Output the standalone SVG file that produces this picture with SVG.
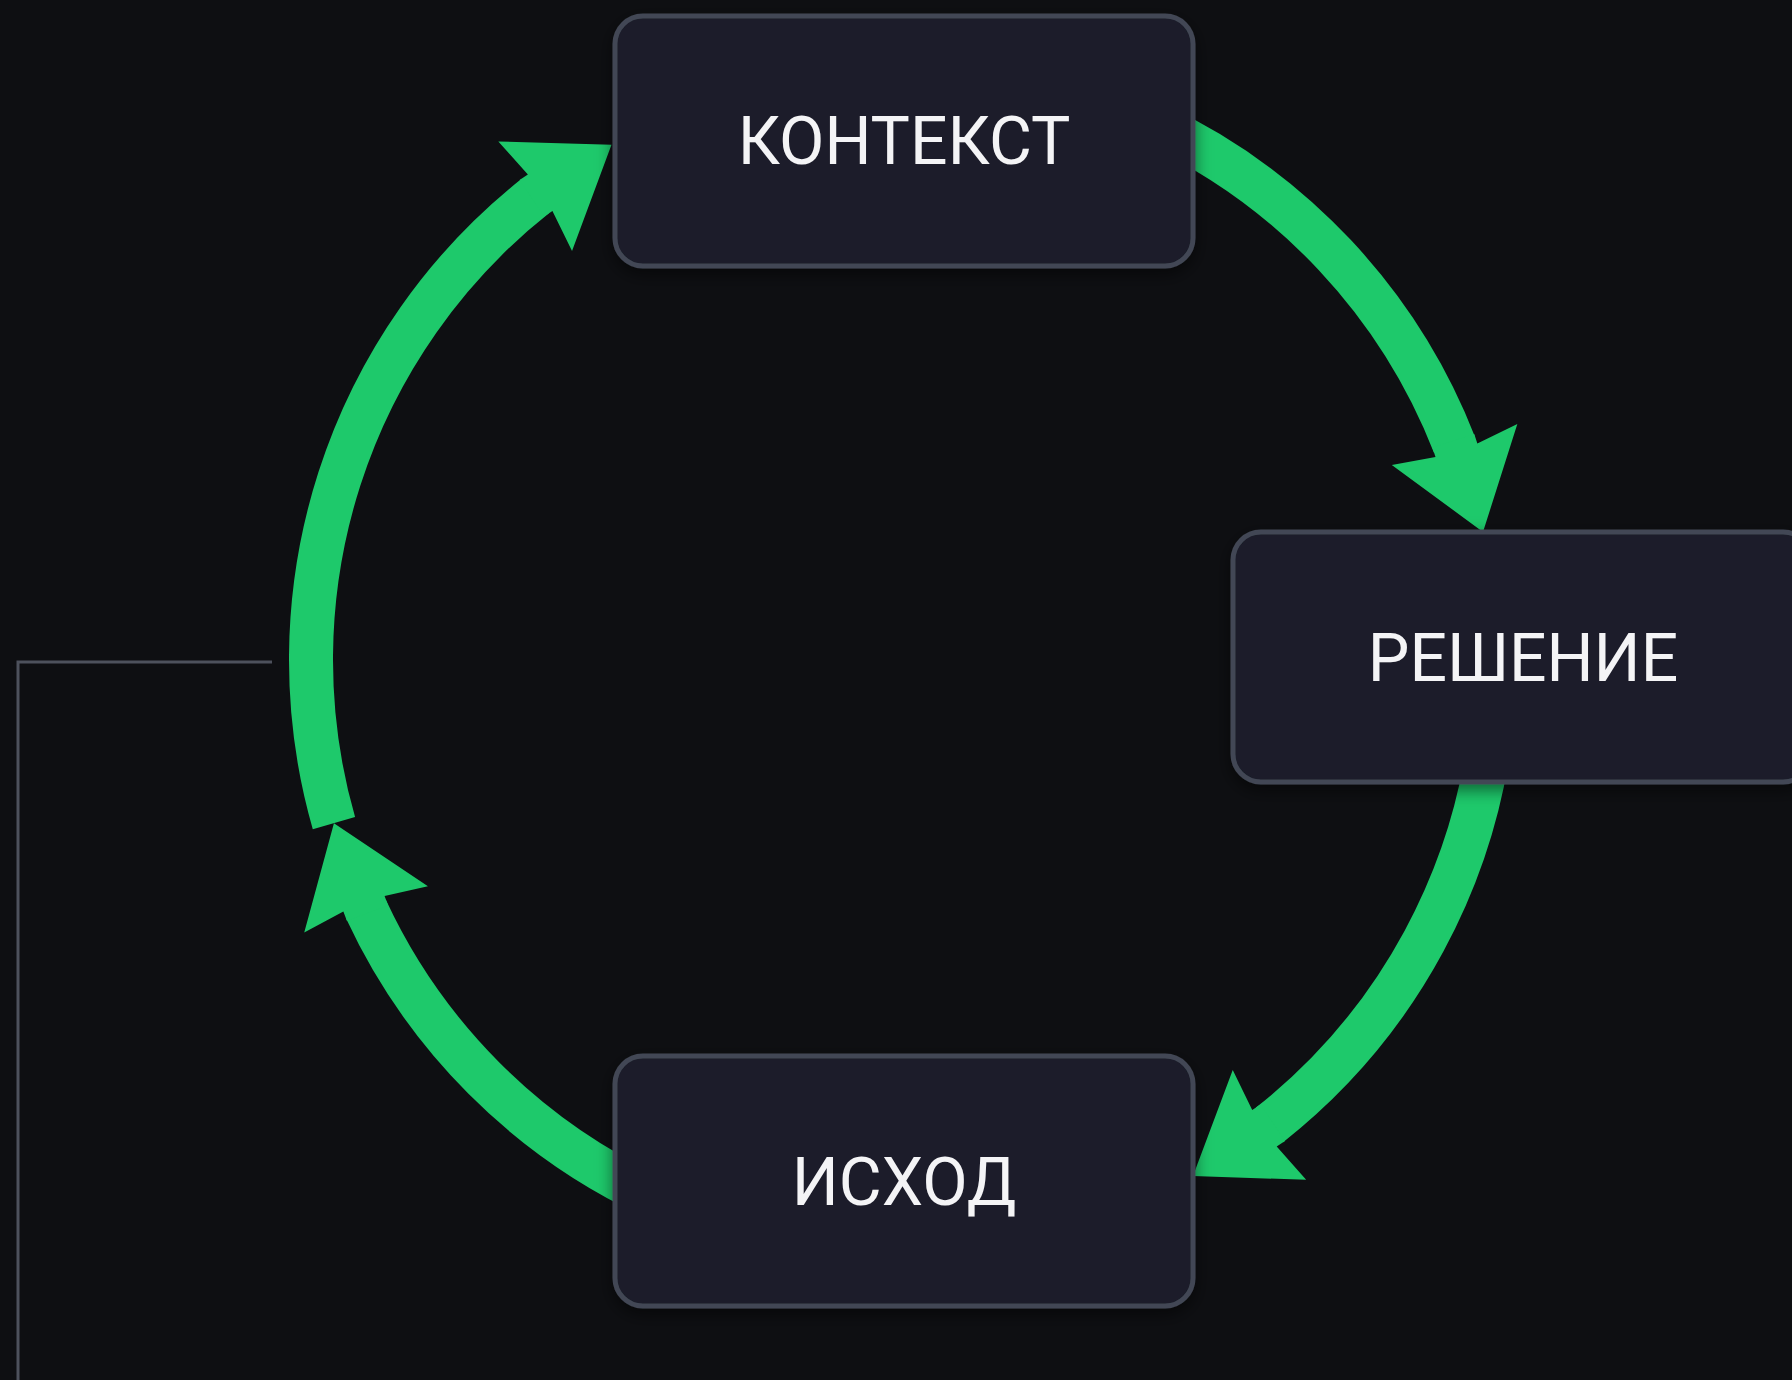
<svg xmlns="http://www.w3.org/2000/svg" width="1792" height="1380" viewBox="0 0 1792 1380">
  <defs>
    <style>
      .box { fill: #1a1d29; stroke: #424754; stroke-width: 5; }
      .label { font-family: Roboto, "Liberation Sans", sans-serif; font-size: 66px; fill: #f4f4f6; text-anchor: middle; }
      .arc { fill: none; stroke: #1ec96b; stroke-width: 44; stroke-linecap: butt; }
      .head { fill: #1ec96b; }
      .wire { fill: none; stroke: #4d515c; stroke-width: 3; }
    </style>
    <polygon id="arrowhead" points="0,0 -92,-66 -86,-22 -96,-22 -96,22 -86,22 -92,66"/>
    <filter id="shadow" x="-10%" y="-10%" width="120%" height="130%">
      <feDropShadow dx="0" dy="6" stdDeviation="8" flood-color="#000000" flood-opacity="0.5"/>
    </filter>
  </defs>
  <rect x="0" y="0" width="1792" height="1380" fill="#0e0f12"/>

  <g id="connectors">
    <path class="wire" d="M 272 662 H 18 V 1380"/>
    <!-- КОНТЕКСТ -> РЕШЕНИЕ -->
    <path class="arc" d="M 1153.19 123.47 A 592 592 0 0 1 1454.56 444.96"/>
    <use href="#arrowhead" class="head" transform="translate(1483 532) rotate(72)"/>
    <!-- РЕШЕНИЕ -> ИСХОД -->
    <path class="arc" d="M 1492.75 711.60 A 592 592 0 0 1 1269.51 1124.90"/>
    <use href="#arrowhead" class="head" transform="translate(1192.99 1176.11) rotate(146.21)"/>
    <!-- ИСХОД -> left -->
    <path class="arc" d="M 652.81 1196.53 A 592 592 0 0 1 366.03 909.26"/>
    <use href="#arrowhead" class="head" transform="translate(333.93 823.18) rotate(-110.45)"/>
    <!-- left -> КОНТЕКСТ -->
    <path class="arc" d="M 333.93 823.18 A 592 592 0 0 1 535.28 196.06"/>
    <use href="#arrowhead" class="head" transform="translate(611.49 144.75) rotate(-33.95)"/>
  </g>

  <g id="node-kontekst">
    <rect class="box" x="615" y="16" width="578" height="250" rx="28" filter="url(#shadow)"/>
    <text class="label" x="904" y="164">КОНТЕКСТ</text>
  </g>
  <g id="node-reshenie">
    <rect class="box" x="1233" y="532" width="578" height="250" rx="28" filter="url(#shadow)"/>
    <text class="label" x="1523" y="681">РЕШЕНИЕ</text>
  </g>
  <g id="node-iskhod">
    <rect class="box" x="615" y="1056" width="578" height="250" rx="28" filter="url(#shadow)"/>
    <text class="label" x="904" y="1205">ИСХОД</text>
  </g>
</svg>
